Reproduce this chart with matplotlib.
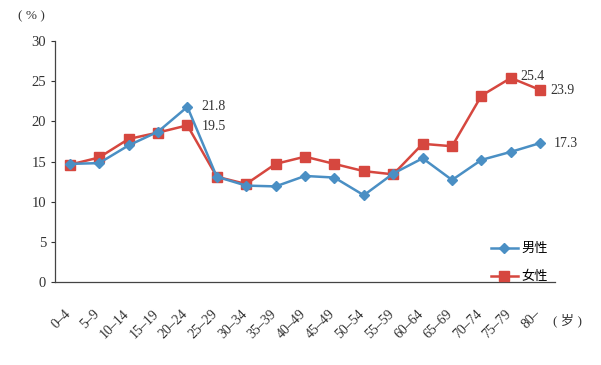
import matplotlib
matplotlib.use('Agg')
import matplotlib.pyplot as plt
import matplotlib.transforms as mtransforms
import numpy as np

plt.rcParams['font.family'] = ['Liberation Serif', 'Noto Sans CJK SC', 'DejaVu Sans']

ages = ['0–4', '5–9', '10–14', '15–19', '20–24', '25–29', '30–34', '35–39',
        '40–49', '45–49', '50–54', '55–59', '60–64', '65–69', '70–74',
        '75–79', '80–']
male = [14.7, 14.8, 17.0, 18.7, 21.8, 13.1, 12.0, 11.9, 13.2, 13.0, 10.8,
        13.5, 15.4, 12.7, 15.2, 16.2, 17.3]
female = [14.6, 15.5, 17.8, 18.6, 19.5, 13.1, 12.2, 14.7, 15.6, 14.7, 13.8,
          13.4, 17.2, 16.9, 23.2, 25.4, 23.9]

blue = '#4a8fc4'
red = '#d6473f'

fig = plt.figure(figsize=(6.01, 3.65), dpi=100)
ax = fig.add_axes([55 / 601, 1 - 282 / 365, 500 / 601, 241 / 365])

x = np.arange(len(ages))
ax.plot(x, male, '-D', color=blue, lw=1.8, ms=5, label='男性', zorder=3)
ax.plot(x, female, '-s', color=red, lw=1.8, ms=6.5, label='女性', zorder=2)

ax.set_xlim(-0.5, 16.5)
ax.set_ylim(0, 30)
ax.set_yticks(np.arange(0, 31, 5))
ax.set_xticks(x)
ax.set_xticklabels(ages, rotation=45, ha='right', va='top', fontsize=10,
                   rotation_mode='anchor')
ax.tick_params(axis='x', length=0, pad=18)
ax.tick_params(axis='y', direction='out', length=3, labelsize=10.5, colors='#333333')
shift = mtransforms.ScaledTranslation(-6 / 100, 0, fig.dpi_scale_trans)
for lbl in ax.get_xticklabels():
    lbl.set_color('#333333')
    lbl.set_transform(lbl.get_transform() + shift)
for s in ['top', 'right']:
    ax.spines[s].set_visible(False)
for s in ['left', 'bottom']:
    ax.spines[s].set_color('#444444')
    ax.spines[s].set_linewidth(0.9)

ax.annotate(f'{male[4]}', (x[4], male[4]), xytext=(10, 0), textcoords='offset points',
            va='center', fontsize=10, color='#333333')
ax.annotate(f'{female[4]}', (x[4], female[4]), xytext=(10, -1), textcoords='offset points',
            va='center', fontsize=10, color='#333333')
ax.annotate(f'{female[15]}', (x[15], female[15]), xytext=(7, 1), textcoords='offset points',
            va='center', fontsize=10, color='#333333')
ax.annotate(f'{female[16]}', (x[16], female[16]), xytext=(7, 0), textcoords='offset points',
            va='center', fontsize=10, color='#333333')
ax.annotate(f'{male[16]}', (x[16], male[16]), xytext=(10, 0), textcoords='offset points',
            va='center', fontsize=10, color='#333333')

fig.text(18 / 601, 1 - 16 / 365, '( % )', fontsize=9.5, va='center', ha='left', color='#333333')
fig.text(553 / 601, 1 - 320 / 365, '( 岁 )', fontsize=9.5, va='center', ha='left', color='#333333')

ax.legend(loc='lower right', bbox_to_anchor=(1.01, -0.055), frameon=False,
          fontsize=9.5, labelspacing=1.2, handlelength=2.0, handletextpad=0.3)

fig.savefig('out.png', dpi=100)
